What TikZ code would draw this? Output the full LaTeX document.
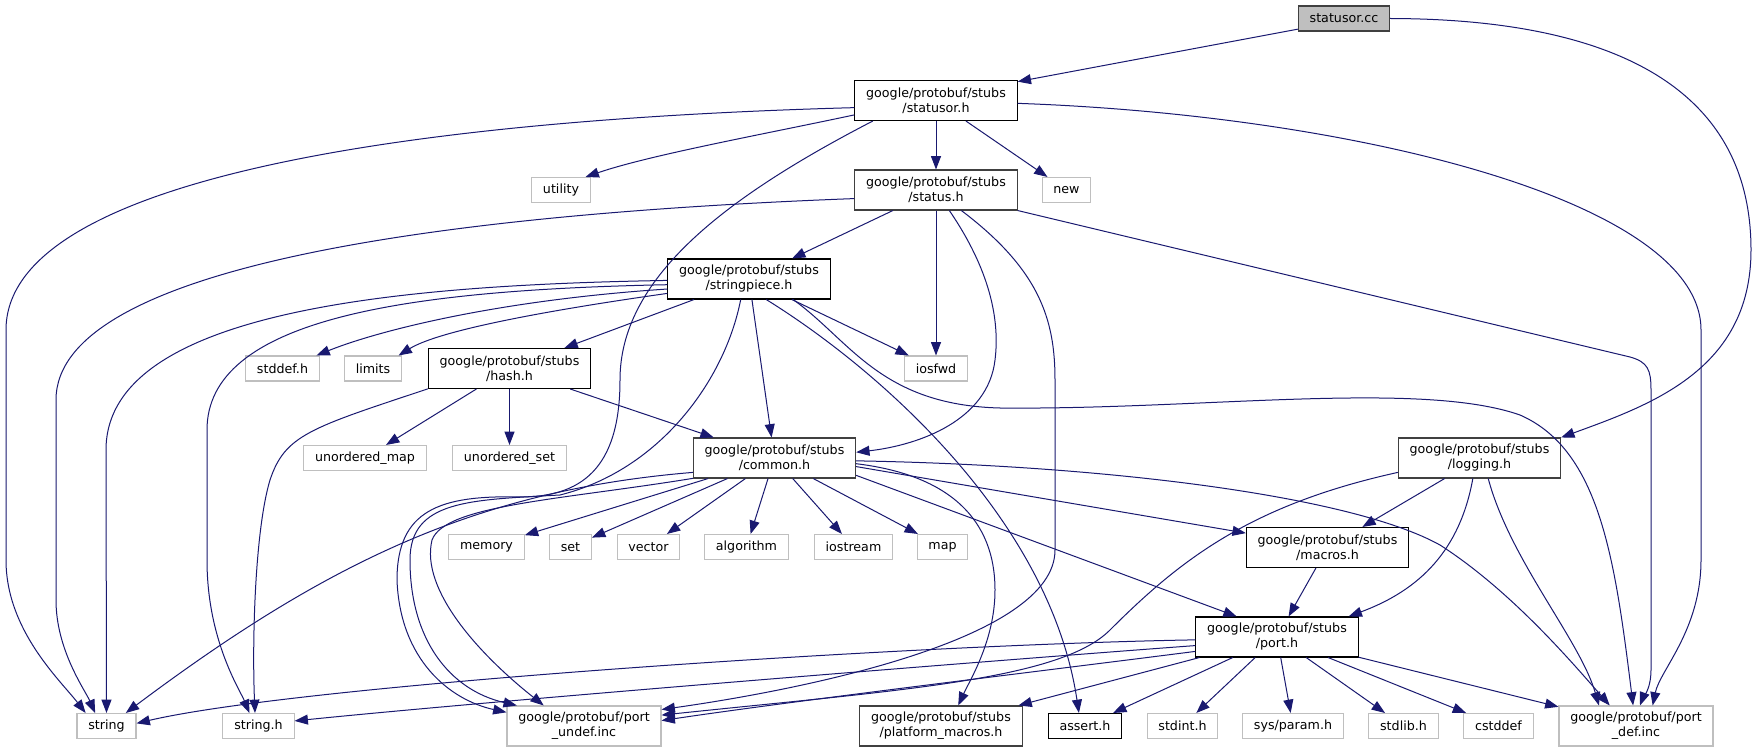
\documentclass[tikz,border=0pt]{standalone}
\usepackage{fontspec}
\setmainfont{DejaVu Sans}
\usetikzlibrary{arrows.meta}
\definecolor{edgeblue}{HTML}{191970}
\definecolor{curfill}{HTML}{BFBFBF}
\definecolor{sysgray}{HTML}{BFBFBF}
\definecolor{linkgray}{HTML}{404040}

\begin{document}
\begin{tikzpicture}[x=0.75pt, y=-0.75pt,
	box/.style={draw, fill=white, line width=0.8pt, inner xsep=8.5pt, inner ysep=2pt, minimum height=18.75pt, align=center, font=\fontsize{9.5}{11.25}\selectfont},
	tall/.style={minimum height=30pt},
	cur/.style={box, fill=curfill, draw=linkgray},
	inc/.style={box, draw=black},
	incg/.style={box, draw=linkgray},
	sys/.style={box, draw=sysgray},
	dep/.style={draw=edgeblue, line width=0.75pt, -{Triangle[length=10pt, width=7.5pt]}}]
	\path[use as bounding box, fill=white] (0,0) rectangle (1757,752);
	\node[cur] (cc) at (1344,18.5) {statusor.cc};
	\node[inc, tall] (statusorh) at (936,100.5) {google/protobuf/stubs\\/statusor.h};
	\node[sys] (utility) at (561,190) {utility};
	\node[incg, tall] (statush) at (936,190) {google/protobuf/stubs\\/status.h};
	\node[sys] (new) at (1066.5,190) {new};
	\node[inc, tall] (stringpiece) at (749,279) {google/protobuf/stubs\\/stringpiece.h};
	\node[sys] (stddef) at (282.5,368.5) {stddef.h};
	\node[sys] (limits) at (373,368.5) {limits};
	\node[inc, tall] (hash) at (509.5,368.5) {google/protobuf/stubs\\/hash.h};
	\node[sys] (iosfwd) at (936,368.5) {iosfwd};
	\node[sys] (umap) at (365,458) {unordered\_map};
	\node[sys] (uset) at (509.5,458) {unordered\_set};
	\node[incg, tall] (common) at (774.5,458) {google/protobuf/stubs\\/common.h};
	\node[incg, tall] (logging) at (1479.5,458) {google/protobuf/stubs\\/logging.h};
	\node[sys] (memory) at (486.5,547) {memory};
	\node[sys] (set) at (570.5,547) {set};
	\node[sys] (vector) at (648.5,547) {vector};
	\node[sys] (algorithm) at (746.5,547) {algorithm};
	\node[sys] (iostream) at (853.5,547) {iostream};
	\node[sys] (map) at (942.5,547) {map};
	\node[inc, tall] (macros) at (1327.5,547.5) {google/protobuf/stubs\\/macros.h};
	\node[inc, tall] (port) at (1277,637) {google/protobuf/stubs\\/port.h};
	\node[sys] (string) at (106.5,726) {string};
	\node[sys] (stringh) at (258.5,726) {string.h};
	\node[sys, tall] (undef) at (584,726) {google/protobuf/port\\\_undef.inc};
	\node[incg, tall] (platform) at (941,726) {google/protobuf/stubs\\/platform\_macros.h};
	\node[inc] (assert) at (1085,726) {assert.h};
	\node[sys] (stdint) at (1182.5,726) {stdint.h};
	\node[sys] (sysparam) at (1293,726) {sys/param.h};
	\node[sys] (stdlib) at (1403.5,726) {stdlib.h};
	\node[sys] (cstddef) at (1498.5,726) {cstddef};
	\node[sys, tall] (portdef) at (1636,726) {google/protobuf/port\\\_def.inc};
	\draw[dep] (cc.193) -- (statusorh.13);
	\draw[dep] (cc.east) .. controls (1600,19) and (1751,80) .. (1751,250) .. controls (1751,370) and (1650,405) .. (logging.north east);
	\draw[dep] (statusorh.185) .. controls (400,120) and (6,180) .. (6,330) -- (6,560) .. controls (6,630) and (60,680) .. (string.148);
	\draw[dep] (statusorh.190) .. controls (760,135) and (650,155) .. (utility.28);
	\draw[dep] (statusorh.198) .. controls (720,200) and (620,280) .. (620,380) .. controls (620,470) and (580,497) .. (520,497) .. controls (440,495) and (397,510) .. (397,580) .. controls (400,660) and (450,700) .. (undef.170);
	\draw[dep] (statusorh) -- (statush);
	\draw[dep] (statusorh) -- (new);
	\draw[dep] (statusorh.358) .. controls (1350,115) and (1701,200) .. (1701,330) -- (1701,560) .. controls (1701,630) and (1660,670) .. (portdef.51);
	\draw[dep] (statush.186) .. controls (420,215) and (56,270) .. (56,400) -- (56,600) .. controls (56,650) and (85,690) .. (string.131);
	\draw[dep] (statush) -- (stringpiece);
	\draw[dep] (statush) -- (iosfwd);
	\draw[dep] (statush.303) .. controls (990,270) and (1000,320) .. (995,360) .. controls (988,420) and (920,445) .. (common.4);
	\draw[dep] (statush.321) .. controls (1040,270) and (1055,320) .. (1055,380) -- (1055,550) .. controls (1055,640) and (800,690) .. (undef.12);
	\draw[dep] (statush.south east) -- (1630,357) .. controls (1648,362) and (1651,370) .. (1651,390) -- (1651,670) .. controls (1651,690) and (1642,700) .. (portdef.79);
	\draw[dep] (stringpiece.181) .. controls (400,285) and (106,310) .. (106,450) -- (string.north);
	\draw[dep] (stringpiece.184) .. controls (400,290) and (207,320) .. (207,430) -- (207,560) .. controls (207,640) and (240,690) .. (stringh.125);
	\draw[dep] (stringpiece.187) .. controls (500,300) and (380,330) .. (stddef.21);
	\draw[dep] (stringpiece.190) .. controls (550,310) and (440,330) .. (limits.27);
	\draw[dep] (stringpiece) -- (hash);
	\draw[dep] (stringpiece) -- (iosfwd);
	\draw[dep] (stringpiece) -- (common);
	\draw[dep] (stringpiece.248) .. controls (725,380) and (660,470) .. (560,495) .. controls (470,500) and (410,500) .. (410,560) .. controls (410,640) and (450,690) .. (undef.163);
	\draw[dep] (stringpiece.310) .. controls (880,370) and (1050,520) .. (assert.115);
	\draw[dep] (stringpiece.335) .. controls (850,340) and (880,405) .. (1000,408) .. controls (1200,410) and (1420,380) .. (1520,415) .. controls (1600,450) and (1615,560) .. (portdef.98);
	\draw[dep] (hash.194) .. controls (310,428) and (285,435) .. (270,480) .. controls (255,530) and (252,640) .. (stringh.105);
	\draw[dep] (hash) -- (umap);
	\draw[dep] (hash) -- (uset);
	\draw[dep] (hash) -- (common);
	\draw[dep] (common.190) .. controls (480,490) and (330,560) .. (string.34);
	\draw[dep] (common.194) .. controls (560,500) and (445,505) .. (432,540) .. controls (420,590) and (480,655) .. (undef.153);
	\draw[dep] (common) -- (memory);
	\draw[dep] (common) -- (set);
	\draw[dep] (common) -- (vector);
	\draw[dep] (common) -- (algorithm);
	\draw[dep] (common) -- (iostream);
	\draw[dep] (common) -- (map);
	\draw[dep] (common.354) -- (macros.170);
	\draw[dep] (common.348) -- (port.153);
	\draw[dep] (common.356) .. controls (950,475) and (995,520) .. (995,590) .. controls (995,640) and (970,680) .. (platform.50);
	\draw[dep] (common.358) .. controls (1100,465) and (1350,495) .. (1440,545) .. controls (1510,590) and (1570,660) .. (portdef.142);
	\draw[dep] (logging.190) .. controls (1250,505) and (1180,560) .. (1110,630) .. controls (1060,680) and (900,690) .. (undef.8);
	\draw[dep] (logging) -- (macros);
	\draw[dep] (logging.252) .. controls (1460,550) and (1420,590) .. (port.16);
	\draw[dep] (logging.293) .. controls (1510,560) and (1580,640) .. (portdef.151);
	\draw[dep] (macros) -- (port);
	\draw[dep] (port.182) .. controls (900,645) and (300,685) .. (string.5);
	\draw[dep] (port.186) .. controls (1000,660) and (500,700) .. (stringh.8);
	\draw[dep] (port.190) .. controls (1050,670) and (800,700) .. (undef.4);
	\draw[dep] (port) -- (platform);
	\draw[dep] (port) -- (assert);
	\draw[dep] (port) -- (stdint);
	\draw[dep] (port) -- (sysparam);
	\draw[dep] (port) -- (stdlib);
	\draw[dep] (port) -- (cstddef);
	\draw[dep] (port) -- (portdef);
\end{tikzpicture}
\end{document}
